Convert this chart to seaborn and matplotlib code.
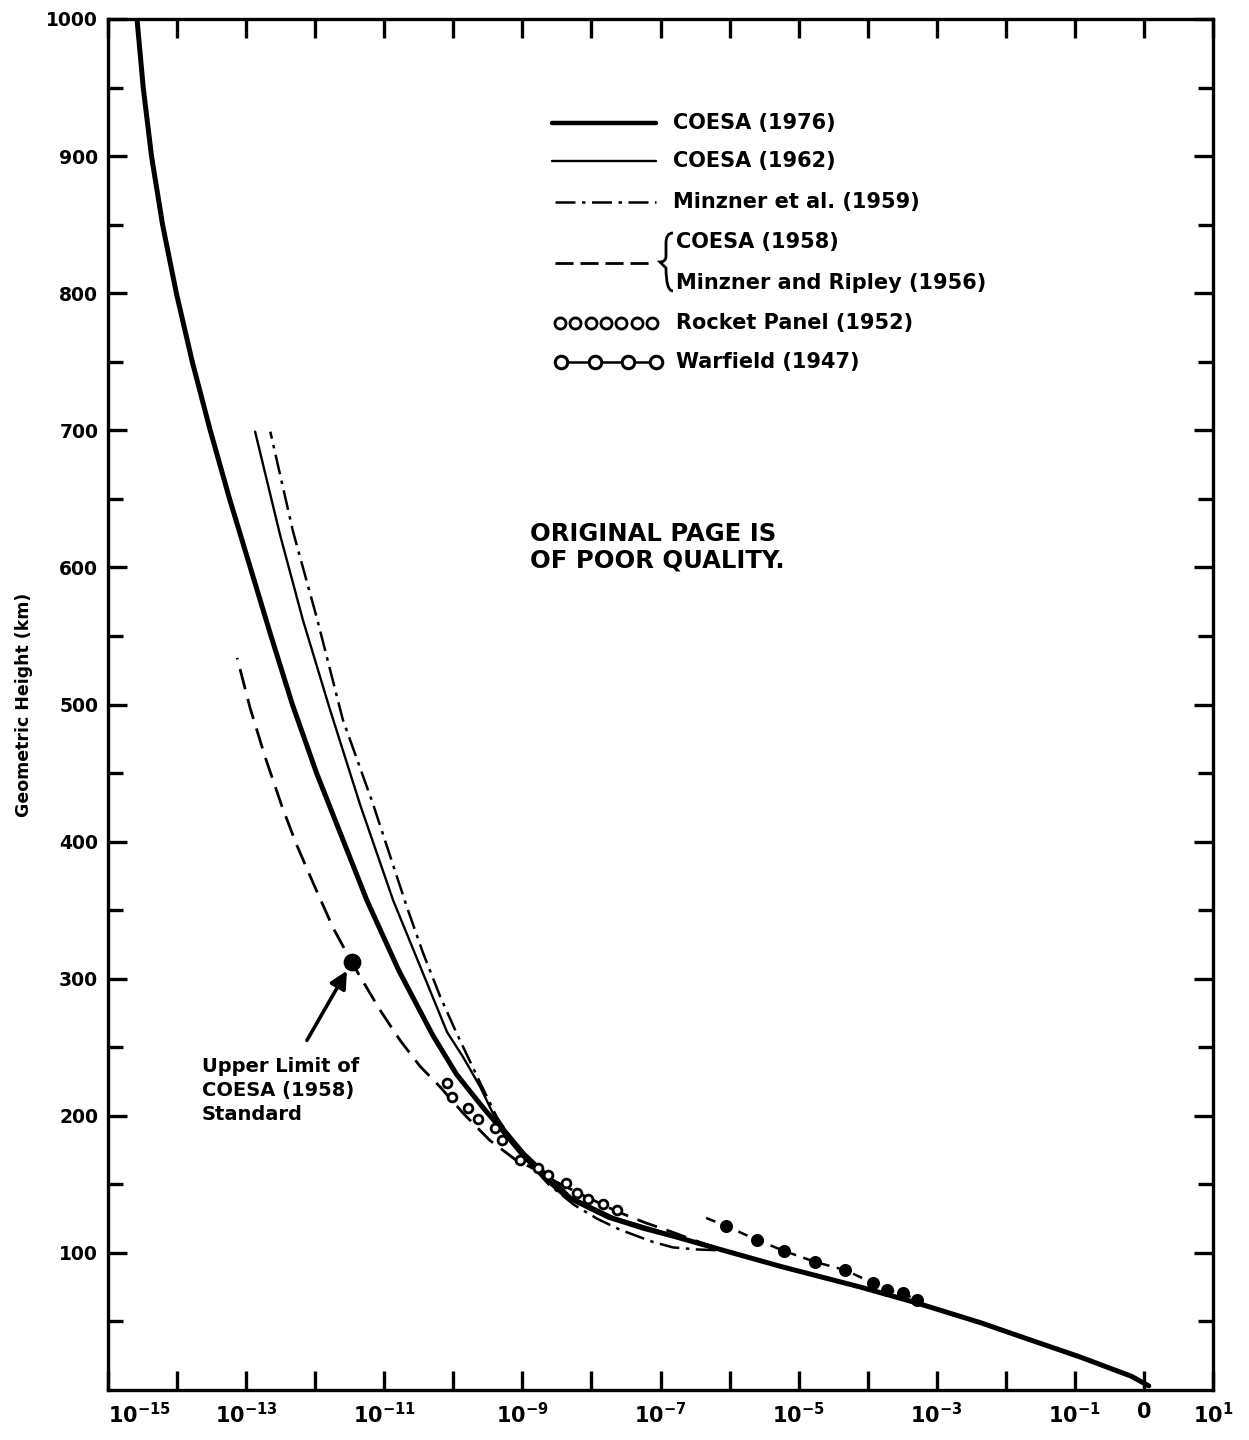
import matplotlib
matplotlib.use("Agg")
import matplotlib.pyplot as plt
from matplotlib.lines import Line2D
from matplotlib.patches import PathPatch
from matplotlib.path import Path
from matplotlib.ticker import FixedLocator, NullLocator
import numpy as np
import pandas as pd
import seaborn as sns

# ---- geometric height (km) and log10 of mass density (kg/m^3) per model ----
coesa1976_alt = [3, 10, 24, 38.7, 49, 63.5, 75, 90, 104, 112, 118, 126, 141, 155, 173, 190,
                 206, 230, 259, 306, 357, 413, 450, 500, 550, 600, 650, 700, 750, 800, 850,
                 900, 950, 1000]
coesa1976_logrho = [0.07, -0.18, -0.92, -1.77, -2.36, -3.29, -4.10, -5.25, -6.24, -6.80, -7.25,
                    -7.75, -8.36, -8.68, -9.02, -9.30, -9.57, -9.95, -10.30, -10.79, -11.25,
                    -11.69, -11.98, -12.33, -12.64, -12.94, -13.24, -13.52, -13.78, -14.01,
                    -14.21, -14.37, -14.49, -14.58]

coesa1962_alt = [104, 112, 126, 141, 173, 199, 221, 243, 261, 309, 357, 427, 497, 562, 624, 699]
coesa1962_logrho = [-6.22, -6.75, -7.68, -8.30, -8.97, -9.40, -9.61, -9.86, -10.09, -10.48,
                    -10.87, -11.35, -11.79, -12.18, -12.51, -12.87]

minzner1959_alt = [102, 102.5, 104, 108, 117, 125, 135, 150, 170, 199, 224, 260, 287, 319,
                   352, 427, 489, 562, 626, 699]
minzner1959_logrho = [-6.20, -6.47, -6.82, -7.11, -7.59, -7.92, -8.25, -8.62, -8.98, -9.37,
                      -9.61, -9.95, -10.19, -10.44, -10.67, -11.16, -11.60, -11.97, -12.32,
                      -12.65]

coesa1958_alt = [104, 109, 115, 122, 130, 142, 152, 159, 168, 182, 202, 221, 236, 255, 277,
                 299, 312, 337, 371, 399, 427, 461, 497, 534]
coesa1958_logrho = [-6.21, -6.50, -6.82, -7.22, -7.62, -8.12, -8.52, -8.74, -9.10, -9.47,
                    -9.86, -10.19, -10.48, -10.77, -11.06, -11.32, -11.47, -11.74, -12.04,
                    -12.28, -12.49, -12.72, -12.94, -13.13]

rocket1952_alt = [224, 214, 206, 198, 191, 182, 168, 162, 157, 151, 144, 139, 136, 131]
rocket1952_logrho = [-10.09, -10.02, -9.79, -9.64, -9.40, -9.29, -9.03, -8.77, -8.63, -8.37,
                     -8.21, -8.05, -7.83, -7.63]

warfield1947_alt = [125.5, 119.6, 109.4, 101.4, 93.4, 87.5, 78, 72.9, 70.7, 65.6]
warfield1947_logrho = [-6.34, -6.05, -5.60, -5.21, -4.76, -4.33, -3.92, -3.72, -3.49, -3.29]

coesa1958_limit_alt = [312]
coesa1958_limit_logrho = [-11.47]

x_exponents = list(range(-15, 2))
x_labelled = [-15, -13, -11, -9, -7, -5, -3, -1, 0, 1]
y_major = list(range(100, 1001, 100))
y_minor = list(range(50, 1000, 100))

legend_labels = ["COESA (1976)", "COESA (1962)", "Minzner et al. (1959)",
                 "COESA (1958)", "Minzner and Ripley (1956)",
                 "Rocket Panel (1952)", "Warfield (1947)"]
note_text = "Upper Limit of\nCOESA (1958)\nStandard"
stamp_text = "ORIGINAL PAGE IS\nOF POOR QUALITY."


def rho(logs):
    return [10.0 ** v for v in logs]


# ---- figure ----
sns.set_theme(style="ticks")
plt.rcParams["font.family"] = ["DejaVu Sans"]
plt.rcParams["font.weight"] = "bold"
plt.rcParams["mathtext.fontset"] = "dejavusans"
plt.rcParams["mathtext.default"] = "bf"
for key in ["text.color", "axes.labelcolor", "xtick.color", "ytick.color", "axes.edgecolor"]:
    plt.rcParams[key] = "black"

W, H = 1249, 1440
fig = plt.figure(figsize=(W / 100, H / 100), dpi=100)
fig.patch.set_facecolor("white")
L, R, T, B = 108, 1213, 19, 1390
ax = fig.add_axes([L / W, 1 - B / H, (R - L) / W, (B - T) / H])
ax.set_facecolor("white")
ax.set_xscale("log")
ax.set_xlim(1e-15, 1e1)
ax.set_ylim(0, 1000)

DASHDOT = (0, (8, 2.6, 1.4, 2.6))
DASHED = (0, (7.5, 3.6))


def curve(alt, logs, lw, ls, z=3):
    df = pd.DataFrame({"rho": rho(logs), "alt": alt})
    sns.lineplot(data=df, x="rho", y="alt", sort=False, estimator=None, ax=ax,
                 color="black", linewidth=lw, linestyle=ls, zorder=z)


curve(coesa1976_alt, coesa1976_logrho, 3.6, "-", z=4)
curve(coesa1962_alt, coesa1962_logrho, 1.7, "-")
curve(minzner1959_alt, minzner1959_logrho, 1.8, DASHDOT)
curve(coesa1958_alt, coesa1958_logrho, 2.0, DASHED)
curve(warfield1947_alt, warfield1947_logrho, 1.8, (0, (4, 3)))

sns.scatterplot(x=rho(warfield1947_logrho[1:]), y=warfield1947_alt[1:], ax=ax, marker="o",
                s=70, color="black", edgecolor="black", linewidth=1, zorder=5)
sns.scatterplot(x=rho(rocket1952_logrho), y=rocket1952_alt, ax=ax, marker="o", s=40,
                facecolor="white", edgecolor="black", linewidth=2.0, zorder=5)
sns.scatterplot(x=rho(coesa1958_limit_logrho), y=coesa1958_limit_alt, ax=ax, marker="o",
                s=140, color="black", edgecolor="black", zorder=6)

# arrow and note for the upper limit of the 1958 standard
ax.annotate("", xy=(rho(coesa1958_limit_logrho)[0], coesa1958_limit_alt[0]),
            xytext=(10 ** -12.12, 255),
            arrowprops=dict(arrowstyle="-|>", lw=2.6, color="black", mutation_scale=26,
                            shrinkA=0, shrinkB=7))
ax.text(10 ** -13.64, 243, note_text, ha="left", va="top",
        fontsize=14, fontweight="bold", linespacing=1.35)

# ---- axes styling ----
for s in ax.spines.values():
    s.set_linewidth(2.4)
    s.set_color("black")

ax.xaxis.set_major_locator(FixedLocator([10.0 ** k for k in x_exponents]))
ax.xaxis.set_minor_locator(NullLocator())
xlabels = []
for k in x_exponents:
    if k not in x_labelled:
        xlabels.append("")
    elif k == 0:
        xlabels.append("0")
    else:
        xlabels.append(r"$10^{%d}$" % k)
ax.set_xticklabels(xlabels)
ax.yaxis.set_major_locator(FixedLocator(y_major))
ax.yaxis.set_minor_locator(FixedLocator(y_minor))
ax.set_yticklabels([str(v) for v in y_major])

ax.tick_params(axis="both", which="major", direction="in", length=14, width=2.4,
               top=True, right=True, labeltop=False, labelright=False, colors="black")
ax.tick_params(axis="y", which="minor", direction="in", length=11, width=2.4,
               left=True, right=True, colors="black")
ax.tick_params(axis="x", which="major", labelsize=15, pad=9)
ax.tick_params(axis="y", which="major", labelsize=13.5, pad=7)
for t in ax.get_xticklabels() + ax.get_yticklabels():
    t.set_fontweight("bold")
    t.set_color("black")
ax.get_xticklabels()[0].set_horizontalalignment("left")

ax.set_xlabel("")
ax.set_ylabel("Geometric Height (km)", fontsize=12.5, fontweight="bold", labelpad=10,
              color="black")


# ---- key (placed in figure pixels) ----
def fx(x):
    return np.asarray(x, dtype=float) / W


def fy(y):
    return 1 - np.asarray(y, dtype=float) / H


def key_line(x0, x1, y, lw, ls):
    fig.add_artist(Line2D(fx([x0, x1]), fy([y, y]), transform=fig.transFigure,
                          color="black", linewidth=lw, linestyle=ls))


def key_text(x, y, s):
    fig.text(fx(x), fy(y), s, fontsize=15, fontweight="bold", va="center", color="black")


key_line(552, 656, 123, 3.2, "-")
key_text(673, 123, legend_labels[0])
key_line(552, 656, 161, 1.7, "-")
key_text(673, 161, legend_labels[1])
key_line(555, 656, 202, 1.8, DASHDOT)
key_text(673, 202, legend_labels[2])
key_line(555, 652, 263, 2.0, (0, (6.5, 2.5)))

# curly brace grouping the two 1958/1956 entries
codes = [Path.MOVETO, Path.CURVE3, Path.CURVE3, Path.LINETO, Path.CURVE3, Path.CURVE3,
         Path.LINETO, Path.CURVE3, Path.CURVE3]
brace = Path([(fx(673), fy(233)), (fx(666), fy(233)), (fx(666), fy(243)),
              (fx(666), fy(256)), (fx(666), fy(262)), (fx(660), fy(262)),
              (fx(666), fy(268)), (fx(666), fy(291)), (fx(673), fy(291))], codes)
fig.add_artist(PathPatch(brace, transform=fig.transFigure, fill=False, edgecolor="black",
                         linewidth=2.0))
key_text(676, 242, legend_labels[3])
key_text(676, 283, legend_labels[4])

ring_x = np.linspace(560, 652, 7)
fig.add_artist(Line2D(fx(ring_x), fy([323] * 7), transform=fig.transFigure, linestyle="none",
                      marker="o", markersize=8, markerfacecolor="white",
                      markeredgecolor="black", markeredgewidth=2.0))
key_text(676, 323, legend_labels[5])
chain_x = np.array([561, 595, 628, 656])
fig.add_artist(Line2D(fx(chain_x), fy([362] * 4), transform=fig.transFigure, color="black",
                      linewidth=1.8, marker="o", markersize=9, markerfacecolor="white",
                      markeredgecolor="black", markeredgewidth=2.2))
key_text(676, 362, legend_labels[6])

# rubber stamp
fig.text(fx(530), fy(547), stamp_text, fontsize=17.5, fontweight="heavy", va="center",
         ha="left", linespacing=1.15, color="black")

fig.savefig("out.png", dpi=100, facecolor="white")
